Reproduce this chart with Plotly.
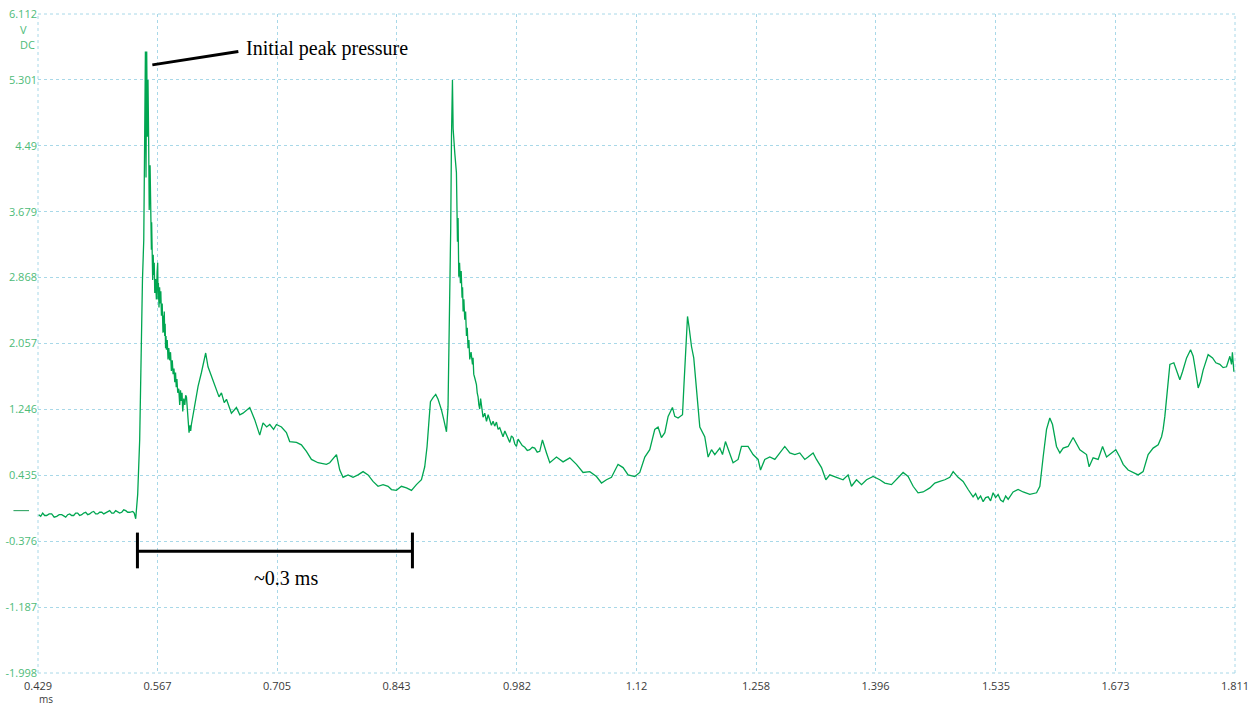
import plotly.graph_objects as go

# Pressure sensor trace, stored in segments: time in ms, signal in V (DC)

# flat baseline before the first event
base_t = [
    0.4298, 0.4321, 0.4344, 0.4367, 0.4390, 0.4419, 0.4448, 0.4477, 0.4506, 0.4535,
    0.4564, 0.4587, 0.4610, 0.4633, 0.4656, 0.4679, 0.4702, 0.4725, 0.4748, 0.4771,
    0.4795, 0.4818, 0.4841, 0.4864, 0.4887, 0.4910, 0.4933, 0.4956, 0.4979, 0.5002,
    0.5026, 0.5049, 0.5072, 0.5095, 0.5118, 0.5141, 0.5164, 0.5187, 0.5210, 0.5233,
    0.5257, 0.5280, 0.5303, 0.5326, 0.5349, 0.5367, 0.5384, 0.5401, 0.5418,
]
base_v = [
    -0.05, -0.07, -0.03, -0.06, -0.06, -0.04, -0.04, -0.08, -0.07, -0.05,
    -0.05, -0.07, -0.08, -0.05, -0.04, -0.06, -0.06, -0.03, -0.03, -0.06,
    -0.05, -0.03, -0.02, -0.05, -0.04, -0.02, -0.01, -0.04, -0.04, -0.02,
    -0.02, -0.04, -0.03, -0.01, 0.00, -0.03, -0.03, 0.00, -0.01, -0.03,
    -0.02, 0.01, 0.00, -0.02, -0.02, -0.01, -0.01, -0.03, -0.10,
]

# first spike (initial peak) and its ringing decay
spike1_t = [
    0.5441, 0.5464, 0.5496, 0.5511, 0.5522, 0.5530, 0.5537, 0.5545, 0.5553, 0.5560,
    0.5568, 0.5574, 0.5580, 0.5584, 0.5588, 0.5593, 0.5599, 0.5602, 0.5606, 0.5610,
    0.5614, 0.5620, 0.5626, 0.5632, 0.5638, 0.5647, 0.5657, 0.5665, 0.5672, 0.5676,
    0.5680, 0.5687, 0.5694, 0.5700, 0.5708, 0.5715, 0.5724, 0.5733, 0.5738, 0.5743,
    0.5748, 0.5753, 0.5758, 0.5763, 0.5768, 0.5773, 0.5782, 0.5791, 0.5800, 0.5810,
    0.5820, 0.5830, 0.5840, 0.5850, 0.5860, 0.5869, 0.5878, 0.5886, 0.5894, 0.5903,
    0.5915, 0.5926, 0.5935, 0.5945, 0.5953, 0.5961, 0.5973, 0.5985, 0.5995, 0.6004,
    0.6012, 0.6020, 0.6027, 0.6034, 0.6045, 0.6053, 0.6061,
]
spike1_v = [
    0.20, 0.87, 2.84, 3.33, 4.65, 5.65, 4.10, 5.65, 4.60, 5.30,
    4.50, 3.70, 3.95, 4.25, 3.70, 4.05, 3.21, 3.55, 3.00, 3.35,
    2.84, 3.15, 2.90, 3.05, 2.68, 2.85, 2.60, 2.93, 3.05, 2.60,
    2.80, 2.50, 2.75, 2.55, 2.70, 2.40, 2.55, 2.19, 2.40, 2.20,
    2.45, 2.15, 2.30, 2.00, 2.15, 1.98, 2.10, 1.86, 2.00, 1.85,
    1.95, 1.72, 1.85, 1.68, 1.75, 1.58, 1.70, 1.52, 1.62, 1.45,
    1.50, 1.30, 1.48, 1.35, 1.45, 1.22, 1.38, 1.30, 1.42, 1.40,
    1.25, 1.15, 1.05, 0.96, 1.05, 0.98, 1.06,
]

# secondary hump and slow relaxation
relax1_t = [
    0.6099, 0.6138, 0.6177, 0.6205, 0.6226, 0.6253, 0.6311, 0.6350, 0.6380, 0.6408,
    0.6440, 0.6466, 0.6523, 0.6581, 0.6620, 0.6657, 0.6700, 0.6735, 0.6792, 0.6850,
    0.6888, 0.6930, 0.6966, 0.7010, 0.7043, 0.7101, 0.7158, 0.7196, 0.7274, 0.7331,
    0.7389, 0.7447, 0.7523, 0.7620, 0.7658, 0.7716, 0.7736, 0.7774, 0.7812, 0.7870,
    0.7927, 0.7985, 0.8043, 0.8101, 0.8158, 0.8216, 0.8274, 0.8332, 0.8371, 0.8428,
    0.8486, 0.8544, 0.8602, 0.8659, 0.8717,
]
relax1_v = [
    1.28, 1.53, 1.70, 1.82, 1.94, 1.77, 1.61, 1.49, 1.40, 1.45,
    1.33, 1.37, 1.20, 1.27, 1.18, 1.20, 1.24, 1.27, 1.12, 0.93,
    1.08, 1.03, 1.06, 1.00, 1.06, 1.03, 0.96, 0.85, 0.84, 0.81,
    0.73, 0.63, 0.59, 0.57, 0.59, 0.66, 0.69, 0.50, 0.41, 0.44,
    0.41, 0.44, 0.48, 0.44, 0.36, 0.30, 0.32, 0.30, 0.26, 0.25,
    0.30, 0.28, 0.25, 0.32, 0.38,
]

# precursor bump, second spike and decay
spike2_t = [
    0.8755, 0.8782, 0.8805, 0.8821, 0.8851, 0.8882, 0.8909, 0.8948, 0.8975, 0.9006,
    0.9024, 0.9036, 0.9044, 0.9055, 0.9064, 0.9075, 0.9083, 0.9090, 0.9102, 0.9121,
    0.9133, 0.9140, 0.9148, 0.9157, 0.9167, 0.9176, 0.9186, 0.9192, 0.9198, 0.9207,
    0.9217, 0.9227, 0.9237, 0.9246, 0.9255, 0.9265, 0.9275, 0.9290, 0.9306, 0.9313,
    0.9321, 0.9336, 0.9352, 0.9361, 0.9371, 0.9380, 0.9390, 0.9400, 0.9410, 0.9419,
    0.9428, 0.9448, 0.9468, 0.9487, 0.9506, 0.9525, 0.9544, 0.9563, 0.9583, 0.9602,
    0.9621, 0.9640, 0.9659, 0.9680, 0.9699, 0.9718, 0.9737, 0.9756, 0.9775, 0.9795,
    0.9814, 0.9833, 0.9852, 0.9881, 0.9910, 0.9939, 0.9968, 0.9997, 1.0025, 1.0054,
    1.0083,
]
spike2_v = [
    0.54, 0.79, 1.12, 1.34, 1.39, 1.43, 1.37, 1.24, 1.12, 0.97,
    1.28, 1.98, 2.93, 3.47, 4.60, 5.30, 4.70, 4.53, 4.40, 4.16,
    3.31, 3.60, 2.88, 3.05, 2.80, 2.95, 2.62, 2.75, 2.45, 2.60,
    2.35, 2.45, 2.15, 2.25, 2.00, 2.10, 1.86, 1.95, 1.80, 1.88,
    1.68, 1.62, 1.55, 1.45, 1.40, 1.30, 1.25, 1.38, 1.30, 1.22,
    1.15, 1.20, 1.10, 1.18, 1.12, 1.05, 1.10, 1.04, 1.09, 1.00,
    1.02, 0.95, 0.91, 0.98, 0.94, 0.88, 0.84, 0.92, 0.90, 0.82,
    0.79, 0.88, 0.85, 0.80, 0.78, 0.74, 0.75, 0.78, 0.77, 0.72,
    0.73,
]

# third, smaller spike
spike3_t = [
    1.0114, 1.0161, 1.0199, 1.0276, 1.0352, 1.0430, 1.0507, 1.0583, 1.0661, 1.0738,
    1.0796, 1.0853, 1.0911, 1.0987, 1.1045, 1.1103, 1.1180, 1.1238, 1.1296, 1.1353,
    1.1411, 1.1449, 1.1488, 1.1527, 1.1565, 1.1615, 1.1642, 1.1680, 1.1731, 1.1749,
    1.1769, 1.1789, 1.1807, 1.1835, 1.1861, 1.1893, 1.1931, 1.1988, 1.2027, 1.2066,
    1.2104, 1.2162, 1.2193, 1.2227, 1.2277, 1.2315, 1.2373, 1.2412, 1.2488, 1.2546,
    1.2604, 1.2632, 1.2681, 1.2739, 1.2797, 1.2854, 1.2912, 1.2970, 1.3028, 1.3085,
    1.3143, 1.3181, 1.3239, 1.3278, 1.3336, 1.3386, 1.3432,
]
spike3_v = [
    0.87, 0.71, 0.59, 0.66, 0.60, 0.65, 0.57, 0.47, 0.48, 0.42,
    0.34, 0.38, 0.41, 0.57, 0.53, 0.44, 0.42, 0.47, 0.66, 0.75,
    1.00, 1.03, 0.90, 0.96, 1.16, 1.27, 1.16, 1.14, 1.18, 1.57,
    1.98, 2.39, 2.26, 2.02, 1.88, 1.45, 1.03, 0.91, 0.66, 0.75,
    0.69, 0.77, 0.69, 0.85, 0.69, 0.59, 0.63, 0.79, 0.79, 0.69,
    0.63, 0.50, 0.63, 0.66, 0.63, 0.71, 0.79, 0.71, 0.69, 0.71,
    0.63, 0.66, 0.71, 0.63, 0.53, 0.38, 0.44,
]

# low plateau
plateau_t = [
    1.3509, 1.3585, 1.3643, 1.3682, 1.3740, 1.3798, 1.3856, 1.3932, 1.4009, 1.4067,
    1.4144, 1.4202, 1.4278, 1.4336, 1.4394, 1.4451, 1.4509, 1.4587, 1.4644, 1.4702,
    1.4760, 1.4817, 1.4856, 1.4913, 1.4971, 1.5029,
]
plateau_v = [
    0.41, 0.38, 0.44, 0.30, 0.38, 0.32, 0.38, 0.42, 0.38, 0.34,
    0.32, 0.38, 0.47, 0.42, 0.30, 0.22, 0.23, 0.28, 0.34, 0.36,
    0.38, 0.41, 0.48, 0.41, 0.36, 0.26,
]

# minimum around 1.53 ms
trough_t = [
    1.5086, 1.5115, 1.5144, 1.5173, 1.5202, 1.5231, 1.5260, 1.5288, 1.5317, 1.5346,
    1.5375, 1.5404, 1.5433, 1.5462, 1.5491,
]
trough_v = [
    0.17, 0.21, 0.14, 0.18, 0.11, 0.16, 0.17, 0.12, 0.22, 0.16,
    0.20, 0.13, 0.11, 0.18, 0.14,
]

# late rises to the end of the record
late_t = [
    1.5548, 1.5606, 1.5664, 1.5741, 1.5819, 1.5857, 1.5895, 1.5934, 1.5972, 1.6003,
    1.6049, 1.6088, 1.6126, 1.6183, 1.6241, 1.6319, 1.6396, 1.6426, 1.6472, 1.6530,
    1.6581, 1.6627, 1.6685, 1.6734, 1.6780, 1.6819, 1.6876, 1.6934, 1.6992, 1.7049,
    1.7107, 1.7165, 1.7223, 1.7262, 1.7280, 1.7300, 1.7327, 1.7358, 1.7404, 1.7435,
    1.7473, 1.7504, 1.7551, 1.7597, 1.7627, 1.7658, 1.7685, 1.7712, 1.7742, 1.7800,
    1.7851, 1.7889, 1.7935, 1.7973, 1.8012, 1.8051, 1.8070, 1.8080, 1.8088, 1.8097,
]
late_v = [
    0.23, 0.26, 0.23, 0.20, 0.22, 0.30, 0.66, 1.00, 1.14, 1.06,
    0.79, 0.71, 0.77, 0.79, 0.90, 0.75, 0.69, 0.54, 0.65, 0.63,
    0.79, 0.66, 0.71, 0.75, 0.66, 0.57, 0.50, 0.47, 0.44, 0.48,
    0.69, 0.77, 0.81, 0.91, 1.00, 1.16, 1.49, 1.80, 1.82, 1.73,
    1.61, 1.71, 1.88, 1.98, 1.90, 1.70, 1.51, 1.59, 1.73, 1.92,
    1.88, 1.82, 1.80, 1.76, 1.77, 1.90, 1.80, 1.95, 1.72, 1.71,
]

t_ms = base_t + spike1_t + relax1_t + spike2_t + spike3_t + plateau_t + trough_t + late_t
volts = base_v + spike1_v + relax1_v + spike2_v + spike3_v + plateau_v + trough_v + late_v

# Axis ticks
x_tickvals = [0.429, 0.567, 0.705, 0.843, 0.982, 1.12, 1.258, 1.396, 1.535, 1.673, 1.811]
x_ticktext = ["0.429", "0.567", "0.705", "0.843", "0.982", "1.12", "1.258", "1.396", "1.535", "1.673", "1.811"]
y_tickvals = [6.112, 5.301, 4.49, 3.679, 2.868, 2.057, 1.246, 0.435, -0.376, -1.187, -1.998]
y_ticktext = ["6.112", "5.301", "4.49", "3.679", "2.868", "2.057", "1.246", "0.435", "-0.376", "-1.187", "-1.998"]

# Annotation geometry (data units)
peak_label = "Initial peak pressure"
peak_pointer_t = [0.5610, 0.6603]
peak_pointer_v = [5.486, 5.650]
peak_label_at = (0.6665, 5.683)

interval_label = "~0.3 ms"
interval_t = [0.5438, 0.8613]
interval_v = -0.50
interval_cap = [-0.27, -0.71]
interval_label_at = (0.7158, -0.824)

TRACE = "#00A651"
YLAB = "#4dbb78"
GRID = "#a8d8e8"
XLAB = "#3a3a3a"

fig = go.Figure()
fig.add_trace(go.Scatter(
    x=t_ms, y=volts, mode="lines",
    line=dict(color=TRACE, width=1.3),
    hoverinfo="skip", showlegend=False,
))

shapes = []
# dashed frame along the plot edges
for x0, y0, x1, y1 in [(0, 0, 1, 0), (0, 1, 1, 1), (0, 0, 0, 1), (1, 0, 1, 1)]:
    shapes.append(dict(type="line", xref="paper", yref="paper", x0=x0, y0=y0, x1=x1, y1=y1,
                       line=dict(color=GRID, width=1, dash="dot"), layer="below"))
# channel zero marker
shapes.append(dict(type="line", xref="paper", yref="y", x0=-0.0205, x1=-0.0075, y0=0, y1=0,
                   line=dict(color="#1f9d55", width=1)))
# pointer to the first peak
shapes.append(dict(type="line", xref="x", yref="y",
                   x0=peak_pointer_t[0], y0=peak_pointer_v[0], x1=peak_pointer_t[1], y1=peak_pointer_v[1],
                   line=dict(color="black", width=3)))
# interval bar with end caps
shapes.append(dict(type="line", xref="x", yref="y", x0=interval_t[0], x1=interval_t[1],
                   y0=interval_v, y1=interval_v, line=dict(color="black", width=3)))
for tc in interval_t:
    shapes.append(dict(type="line", xref="x", yref="y", x0=tc, x1=tc,
                       y0=interval_cap[0], y1=interval_cap[1], line=dict(color="black", width=3)))

annotations = [
    dict(text=peak_label, x=peak_label_at[0], y=peak_label_at[1], xref="x", yref="y",
         xanchor="left", yanchor="middle", showarrow=False,
         font=dict(family="Liberation Serif", size=20, color="black")),
    dict(text=interval_label, x=interval_label_at[0], y=interval_label_at[1], xref="x", yref="y",
         xanchor="center", yanchor="middle", showarrow=False,
         font=dict(family="Liberation Serif", size=20, color="black")),
    dict(text="V", x=-0.0120, y=0.977, xref="paper", yref="paper", xanchor="center", yanchor="middle",
         showarrow=False, font=dict(family="Open Sans", size=11, color=YLAB)),
    dict(text="DC", x=-0.0086, y=0.953, xref="paper", yref="paper", xanchor="center", yanchor="middle",
         showarrow=False, font=dict(family="Open Sans", size=11, color=YLAB)),
    dict(text="ms", x=0.0064, y=-0.0531, xref="paper", yref="paper", xanchor="center", yanchor="bottom",
         showarrow=False, font=dict(family="Open Sans", size=10, color=XLAB)),
]

fig.update_layout(
    width=1253, height=708,
    margin=dict(l=38, r=18, t=14, b=35, autoexpand=False),
    paper_bgcolor="white", plot_bgcolor="white",
    showlegend=False, hovermode=False,
    shapes=shapes, annotations=annotations,
    xaxis=dict(range=[0.429, 1.811], tickmode="array", tickvals=x_tickvals, ticktext=x_ticktext,
               showgrid=True, gridcolor=GRID, gridwidth=1, griddash="dot",
               zeroline=False, showline=False, ticks="", automargin=False,
               ticklabelstandoff=5,
               tickfont=dict(family="Open Sans", size=11, color=XLAB)),
    yaxis=dict(range=[-1.998, 6.112], tickmode="array", tickvals=y_tickvals, ticktext=y_ticktext,
               showgrid=True, gridcolor=GRID, gridwidth=1, griddash="dot",
               zeroline=False, showline=False, ticks="", automargin=False,
               tickfont=dict(family="Open Sans", size=11, color=YLAB)),
)

fig.write_html("out.html")
